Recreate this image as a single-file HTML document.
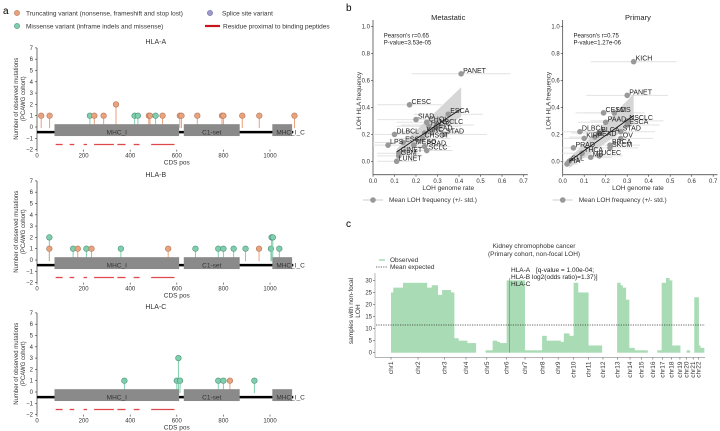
<!DOCTYPE html>
<html><head><meta charset="utf-8"><style>
html,body{margin:0;padding:0;background:#fff;}
svg{display:block;font-family:"Liberation Sans","DejaVu Sans",sans-serif;}
</style></head><body>
<svg id="fig" width="720" height="431" viewBox="0 0 720 431" xmlns="http://www.w3.org/2000/svg">
<text x="3" y="14" font-size="10">a</text>
<text x="346" y="11" font-size="10">b</text>
<text x="346" y="227" font-size="10">c</text>
<g font-size="6.5" fill="#333">
<circle cx="17" cy="13" r="2.6" fill="#e9a27c" stroke="#b0765a" stroke-width="0.6"/>
<text x="26" y="15.5">Truncating variant (nonsense, frameshift and stop lost)</text>
<circle cx="210" cy="13" r="2.6" fill="#9b9bd0" stroke="#6a6a9a" stroke-width="0.6"/>
<text x="222" y="15.5">Splice site variant</text>
<circle cx="17" cy="26" r="2.6" fill="#7fcfae" stroke="#4a8f74" stroke-width="0.6"/>
<text x="26" y="28.5">Missense variant (inframe indels and missense)</text>
<line x1="205" y1="26" x2="220" y2="26" stroke="#c8141b" stroke-width="2.2"/>
<text x="223" y="28.5">Residue proximal to binding peptides</text>
</g>
<g id="pa"></g><g id="pb"></g><g id="pc"></g>
</svg>
<script>
// ---------- Panel a data ----------
const genes = ["HLA-A","HLA-B","HLA-C"];
const mutPosA = [18,54,227,246,286,339,419,433,480,485,509,539,613,620,688,794,800,881,954,1105];
const mutCntA = [1,1,1,1,1,2,1,1,1,1,1,1,1,1,1,1,1,1,1,1];
const mutTypA = ["t","t","m","t","t","t","m","m","t","t","m","t","t","t","t","t","t","t","t","t"];
const mutPosB = [53,53,155,175,212,234,360,563,680,778,800,844,895,953,1004,1007,1012,1040];
const mutCntB = [2,1,1,1,1,1,1,1,1,1,1,1,1,1,1,2,2,1];
const mutTypB = ["m","t","m","t","m","t","m","t","m","m","m","m","m","t","m","m","m","m"];
const mutPosC = [375,600,607,614,778,800,828,933];
const mutCntC = [1,1,3,1,1,1,1,1];
const mutTypC = ["m","m","m","m","m","m","t","m"];
const domainStart = [75,630,1010];
const domainEnd = [610,870,1095];
const domainName = ["MHC_I","C1-set","MHC_I_C"];
const bindStart = [80,140,200,245,345,415,490];
const bindEnd = [110,160,215,330,380,440,590];
const aYTicks = [-2,-1,0,1,2,3,4,5,6,7];
const aXTicks = [0,200,400,600,800,1000];

// ---------- Panel b data ----------
const metLabels = ["PANET","CESC","SIAD","ESCA","CHOL","HNSC","NSCLC","DLBCL","KIRC","READ","STAD","CHSOT","LPS","ESG","MESO","PRAD","SCLC","GINET","GBM","LUNET"];
const metX = [0.41,0.17,0.20,0.35,0.25,0.26,0.30,0.10,0.24,0.27,0.33,0.23,0.07,0.14,0.19,0.24,0.25,0.12,0.12,0.11];
const metY = [0.65,0.42,0.31,0.35,0.29,0.26,0.27,0.20,0.21,0.22,0.20,0.17,0.12,0.14,0.12,0.11,0.08,0.06,0.04,0.00];
const metSd = [0.23,0.15,0.18,0.16,0.14,0.15,0.17,0.14,0.15,0.15,0.20,0.13,0.14,0.14,0.13,0.12,0.12,0.10,0.10,0.09];
const metFit = [0.11,0.07,0.41,0.39];
const priLabels = ["KICH","PANET","CESC","LMS","PAAD","NSCLC","ESCA","DLBCL","BLCA","STAD","OV","KIRP","READ","BRCA","SKCM","PRAD","THCA","MB","UCEC","CLL","PIA"];
const priX = [0.33,0.30,0.19,0.24,0.20,0.30,0.30,0.08,0.17,0.27,0.27,0.10,0.15,0.22,0.22,0.05,0.09,0.13,0.17,0.03,0.02];
const priY = [0.74,0.49,0.36,0.36,0.29,0.30,0.27,0.22,0.21,0.22,0.17,0.17,0.18,0.12,0.10,0.10,0.06,0.03,0.04,0.00,-0.02];
const priSd = [0.20,0.19,0.13,0.14,0.13,0.17,0.15,0.12,0.13,0.16,0.15,0.10,0.12,0.14,0.13,0.09,0.10,0.10,0.11,0.05,0.05];
const priFit = [0.03,0.00,0.33,0.34];
const bTicks = [0.0,0.1,0.2,0.3,0.4,0.5,0.6,0.7];
const bYTicks = [0.0,0.2,0.4,0.6,0.8,1.0];

// ---------- Panel c data ----------
const chrNames = ["chr1","chr2","chr3","chr4","chr5","chr6","chr7","chr8","chr9","chr10","chr11","chr12","chr13","chr14","chr15","chr16","chr17","chr18","chr19","chr20","chr21","chr22"];
const chrStart = [0,249,492,690,881,1062,1233,1392,1538,1679,1815,1950,2084,2199,2306,2409,2499,2580,2658,2717,2780,2828];
const segStart = [0,21,110,130,240,330,375,430,470,490,550,580,620,700,780,870,935,975,1000,1064,1230,1390,1430,1560,1590,1640,1680,1720,1815,1940,2080,2110,2130,2160,2190,2240,2360,2450,2490,2530,2560,2585,2660,2720,2750,2790,2830,2845];
const segEnd = [21,110,130,240,330,375,430,470,490,550,580,620,700,780,870,935,975,1000,1064,1230,1390,1430,1560,1590,1640,1680,1720,1815,1940,2080,2110,2130,2160,2190,2240,2360,2450,2490,2530,2560,2585,2660,2720,2750,2790,2830,2845,2880];
const segVal = [25,27,29,29,29,27,28,24,26,26,25,6,5,4,0,1,5,4.5,4,30,1,7,5,4.5,8,7,29,25,3,0,29,28,27,22,2,1,0,1,29,31,30,3,0,1,0,23,3,2];
const meanExpected = 11.5;
const hlaPos = 1092;
const cYTicks = [0,5,10,15,20,25,30];

const NS="http://www.w3.org/2000/svg";
function mk(parent,tag,attrs,txt){const e=document.createElementNS(NS,tag);for(const k in attrs)e.setAttribute(k,attrs[k]);if(txt!==undefined)e.textContent=txt;parent.appendChild(e);return e;}

// ---------- Panel a ----------
const pa=document.getElementById('pa');
const aY0=[127,260,392];
const allPos=[mutPosA,mutPosB,mutPosC], allCnt=[mutCntA,mutCntB,mutCntC], allTyp=[mutTypA,mutTypB,mutTypC];
const xa=v=>37+v*0.233;
genes.forEach((g,gi)=>{
  const y0=aY0[gi]; const ya=v=>y0-v*11.3;
  const grp=mk(pa,'g',{});
  
  
  const t=mk(grp,'text',{x:xa(510),y:ya(7)-4,'font-size':7,'text-anchor':'middle',fill:'#333'},g);
  
  
  const sp=mk(grp,'line',{x1:37,y1:ya(7),x2:37,y2:ya(-2),stroke:'#333','stroke-width':0.7});
  
  
  aYTicks.forEach(v=>{
    mk(grp,'line',{x1:35,y1:ya(v),x2:37,y2:ya(v),stroke:'#333','stroke-width':0.6});
    const tl=mk(grp,'text',{x:33,y:ya(v)+2,'font-size':6,'text-anchor':'end',fill:'#333'},v<0?'\u2212'+(-v):v);
    
    
  });
  const yb=ya(-2);
  aXTicks.forEach(v=>{
    mk(grp,'line',{x1:xa(v),y1:yb,x2:xa(v),y2:yb+2,stroke:'#333','stroke-width':0.6});
    const tl=mk(grp,'text',{x:xa(v),y:yb+8,'font-size':6,'text-anchor':'middle',fill:'#333'},v);
    
    
  });
  const xl=mk(grp,'text',{x:xa(600),y:yb+15,'font-size':6.5,'text-anchor':'middle',fill:'#333'},'CDS pos');
  
  
  const yl=mk(grp,'text',{transform:`translate(18,${ya(2.5)}) rotate(-90)`,'font-size':6,'text-anchor':'middle',fill:'#333'});
  
  
  mk(yl,'tspan',{x:0,dy:0},'Number of observed mutations');
  mk(yl,'tspan',{x:0,dy:7},'(PCAWG cohort)');
  const bb=mk(grp,'line',{x1:xa(0),y1:ya(-0.45),x2:xa(1100),y2:ya(-0.45),stroke:'#000','stroke-width':2.5});
  
  
  const pos=allPos[gi],cnt=allCnt[gi],typ=allTyp[gi];
  pos.forEach((p,i)=>{
    const col=typ[i]==='t'?'#e9a27c':'#7fcfae', ed=typ[i]==='t'?'#b0765a':'#4a8f74';
    mk(grp,'line',{x1:xa(p),y1:ya(-0.1),x2:xa(p),y2:ya(cnt[i]),stroke:col,'stroke-width':1});
    const c=mk(grp,'circle',{cx:xa(p),cy:ya(cnt[i]),r:2.8,fill:col,stroke:ed,'stroke-width':0.6});
    
    
  });
  domainStart.forEach((s,i)=>{
    const r=mk(grp,'rect',{x:xa(s),y:ya(0.25),width:xa(domainEnd[i])-xa(s),height:11.3*1.05,fill:'#8a8a8a'});
    
    
    const lbx=i===2?xa(s)+4:(xa(s)+xa(domainEnd[i]))/2;
    mk(grp,'text',{x:lbx,y:ya(-0.45)+2.3,'font-size':6.5,'text-anchor':i===2?'start':'middle',fill:'#333'},domainName[i]);
  });
  bindStart.forEach((s,i)=>{
    const l=mk(grp,'line',{x1:xa(s),y1:ya(-1.55),x2:xa(bindEnd[i]),y2:ya(-1.55),stroke:'#e0474a','stroke-width':1.3});
    
    
  });
});

// ---------- Panel b ----------
const pb=document.getElementById('pb');
function scatter(ox,title,labels,X,Y,SD,fit,stats){
  const xs=v=>ox+v*215, ys=v=>161.3-v*134.6;
  const grp=mk(pb,'g',{});
  
  
  const t=mk(grp,'text',{x:xs(0.35),y:20,'font-size':7.5,'text-anchor':'middle',fill:'#222'},title);
  
  
  mk(grp,'line',{x1:ox,y1:ys(1.05),x2:ox,y2:ys(-0.1),stroke:'#333','stroke-width':0.7});
  mk(grp,'line',{x1:ox,y1:ys(-0.1),x2:xs(0.72),y2:ys(-0.1),stroke:'#333','stroke-width':0.7});
  bTicks.forEach(v=>{
    mk(grp,'line',{x1:xs(v),y1:ys(-0.1),x2:xs(v),y2:ys(-0.1)+2,stroke:'#333','stroke-width':0.6});
    mk(grp,'text',{x:xs(v),y:ys(-0.1)+8,'font-size':6,'text-anchor':'middle',fill:'#333'},v.toFixed(1));
  });
  bYTicks.forEach(v=>{
    mk(grp,'line',{x1:ox-2,y1:ys(v),x2:ox,y2:ys(v),stroke:'#333','stroke-width':0.6});
    mk(grp,'text',{x:ox-3,y:ys(v)+2,'font-size':6,'text-anchor':'end',fill:'#333'},v.toFixed(1));
  });
  const xl=mk(grp,'text',{x:xs(0.35),y:190,'font-size':6.5,'text-anchor':'middle',fill:'#333'},'LOH genome rate');
  
  
  const yl=mk(grp,'text',{transform:`translate(${ox-12},${ys(0.45)}) rotate(-90)`,'font-size':6.5,'text-anchor':'middle',fill:'#333'},'LOH HLA frequency');
  
  
  mk(grp,'text',{x:xs(0.05),y:ys(0.92),'font-size':6,fill:'#222'},stats[0]);
  mk(grp,'text',{x:xs(0.05),y:ys(0.92)+7,'font-size':6,fill:'#222'},stats[1]);
  X.forEach((x,i)=>{
    const eb=mk(grp,'line',{x1:xs(Math.max(0,x-SD[i])),y1:ys(Y[i]),x2:xs(x+SD[i]),y2:ys(Y[i]),stroke:'#e2e2e2','stroke-width':1});
    
    
  });
  const [x1,y1,x2,y2]=fit;
  const band=mk(grp,'polygon',{points:`${xs(x1)},${ys(y1-0.05)} ${xs(x2)},${ys(y2-0.06)} ${xs(x2)},${ys(y2+0.16)} ${xs(x1)},${ys(y1+0.02)}`,fill:'#cfcfcf',opacity:0.85});
  
  
  X.forEach((x,i)=>{
    const c=mk(grp,'circle',{cx:xs(x),cy:ys(Y[i]),r:2.8,fill:'#999'});
    
    
  });
  const rl=mk(grp,'line',{x1:xs(x1),y1:ys(y1),x2:xs(x2),y2:ys(y2),stroke:'#111','stroke-width':0.9});
  
  
  X.forEach((x,i)=>{
    const tl=mk(grp,'text',{x:xs(x)+2,y:ys(Y[i])-1,'font-size':7,fill:'#222'},labels[i]);
    
    
  });
  const lg=mk(grp,'g',{});
  
  
  mk(lg,'line',{x1:ox-10,y1:200,x2:ox+10,y2:200,stroke:'#ccc','stroke-width':1});
  mk(lg,'circle',{cx:ox,cy:200,r:2.8,fill:'#999'});
  mk(lg,'text',{x:ox+16,y:202,'font-size':6.5,fill:'#333'},'Mean LOH frequency (+/- std.)');
}
scatter(373,'Metastatic',metLabels,metX,metY,metSd,metFit,["Pearson's r=0.65","P-value=3.53e-05"]);
scatter(562.7,'Primary',priLabels,priX,priY,priSd,priFit,["Pearson's r=0.75","P-value=1.27e-06"]);

// ---------- Panel c ----------
const pc=document.getElementById('pc');
const xc=v=>391+v*0.1087, yc=v=>352.7-v*2.41;
const gc=mk(pc,'g',{});


mk(gc,'text',{x:534,y:248,'font-size':6.5,'text-anchor':'middle',fill:'#333'},'Kidney chromophobe cancer');
mk(gc,'text',{x:534,y:256,'font-size':6.5,'text-anchor':'middle',fill:'#333'},'(Primary cohort, non-focal LOH)');
segStart.forEach((s,i)=>{
  const r=mk(gc,'rect',{x:xc(s),y:yc(segVal[i]),width:xc(segEnd[i])-xc(s)+0.3,height:segVal[i]*2.41,fill:'#a9dcb5'});
  
  
});
mk(gc,'line',{x1:xc(hlaPos),y1:yc(31),x2:xc(hlaPos),y2:yc(0),stroke:'#5a8f66','stroke-width':0.6});
const me=mk(gc,'line',{x1:376,y1:yc(meanExpected),x2:705,y2:yc(meanExpected),stroke:'#333','stroke-width':0.8,'stroke-dasharray':'1.2,1.2'});


mk(gc,'line',{x1:375,y1:yc(33),x2:375,y2:yc(-2),stroke:'#888','stroke-width':0.6});
mk(gc,'line',{x1:375,y1:yc(-2),x2:705,y2:yc(-2),stroke:'#888','stroke-width':0.6});
cYTicks.forEach(v=>{
  mk(gc,'line',{x1:373,y1:yc(v),x2:375,y2:yc(v),stroke:'#555','stroke-width':0.6});
  mk(gc,'text',{x:372,y:yc(v)+2,'font-size':6,'text-anchor':'end',fill:'#333'},v);
});
chrNames.forEach((c,i)=>{
  const x=xc(chrStart[i]);
  mk(gc,'line',{x1:x,y1:yc(-2),x2:x,y2:yc(-2)+2,stroke:'#555','stroke-width':0.6});
  const t=mk(gc,'text',{transform:`translate(${x+2},${yc(-2)+4}) rotate(-90)`,'font-size':6.5,'text-anchor':'end',fill:'#333'},c);
  
  
});
const cyl=mk(gc,'text',{transform:'translate(353,311) rotate(-90)','font-size':6.5,'text-anchor':'middle',fill:'#333'});


mk(cyl,'tspan',{x:0,dy:0},'samples with non-focal');
mk(cyl,'tspan',{x:0,dy:7},'LOH');
const cl=mk(gc,'g',{});


mk(cl,'line',{x1:379,y1:260,x2:385,y2:260,stroke:'#a9dcb5','stroke-width':1.5});
mk(cl,'text',{x:390,y:262,'font-size':6.5,fill:'#333'},'Observed');
mk(cl,'line',{x1:376,y1:267,x2:388,y2:267,stroke:'#333','stroke-width':0.8,'stroke-dasharray':'1.2,1.2'});
mk(cl,'text',{x:390,y:269,'font-size':6.5,fill:'#333'},'Mean expected');
const an=mk(gc,'g',{'font-size':6.5,fill:'#222'});


mk(an,'text',{x:511,y:272},'HLA-A');
mk(an,'text',{x:511,y:279},'HLA-B');
mk(an,'text',{x:511,y:286},'HLA-C');
mk(an,'text',{x:536,y:272},'[q-value = 1.00e-04;');
mk(an,'text',{x:532,y:279},'log2(odds ratio)=1.37)]');
</script>
</body></html>
